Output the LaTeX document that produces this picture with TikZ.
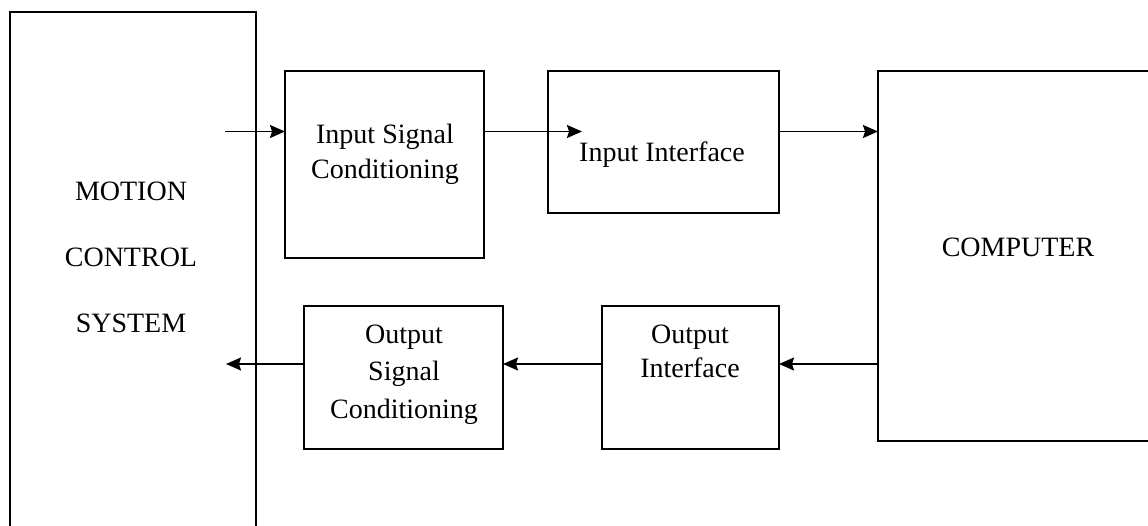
\documentclass[tikz,border=0pt]{standalone}
\usepackage{fontspec}
\setmainfont{Liberation Serif}
\usetikzlibrary{arrows.meta}
\begin{document}
\begin{tikzpicture}[x=1pt,y=-1pt,
  blk/.style={draw,line width=1.8pt,inner sep=0pt,outer sep=0pt},
  lbl/.style={align=center,inner sep=0pt,font=\fontsize{28}{35}\selectfont},
  arr/.style={line width=1.8pt,-{Stealth[length=15pt,width=13pt,inset=2pt]}}]
\useasboundingbox (0,0) rectangle (1148,525);
\clip (0,0) rectangle (1148,525);
% boxes
\node[blk,minimum width=246pt,minimum height=540pt] (ms) at (133,282) {};
\node[blk,minimum width=199pt,minimum height=187pt] (isc) at (384.5,164.5) {};
\node[blk,minimum width=231pt,minimum height=142pt] (ii) at (663.5,142) {};
\node[blk,minimum width=292pt,minimum height=370pt] (comp) at (1024,256) {};
\node[blk,minimum width=177pt,minimum height=143pt] (oi) at (690.5,377.5) {};
\node[blk,minimum width=199pt,minimum height=143pt] (osc) at (403.5,377.5) {};
% labels
\node[lbl] (mst) at (131,257.5) {MOTION\\[31pt]CONTROL\\[31pt]SYSTEM};
\node[lbl] (isct) at (385,154) {Input Signal\\Conditioning};
\node[lbl] (iit) at (662,155) {Input Interface};
\node[lbl] (compt) at (1018,247.5) {COMPUTER};
\node[lbl] (oit) at (690,351) {Output\\[-1pt]Interface};
\node[lbl] (osct) at (404,374.5) {Output\\[2.5pt]Signal\\[2.5pt]Conditioning};
% connectors
\coordinate (r1) at (0,131.5);
\coordinate (r2) at (0,364);
\coordinate (in0) at (225,131.5);
\coordinate (t2) at (582,131.5);
\coordinate (out0) at (226,364);
\draw[arr] (in0) -- (isc.west |- r1);
\draw[arr] (isc.east |- r1) -- (t2);
\draw[arr] (ii.east |- r1) -- (comp.west |- r1);
\draw[arr] (comp.west |- r2) -- (oi.east |- r2);
\draw[arr] (oi.west |- r2) -- (osc.east |- r2);
\draw[arr] (osc.west |- r2) -- (out0);
\end{tikzpicture}
\end{document}
